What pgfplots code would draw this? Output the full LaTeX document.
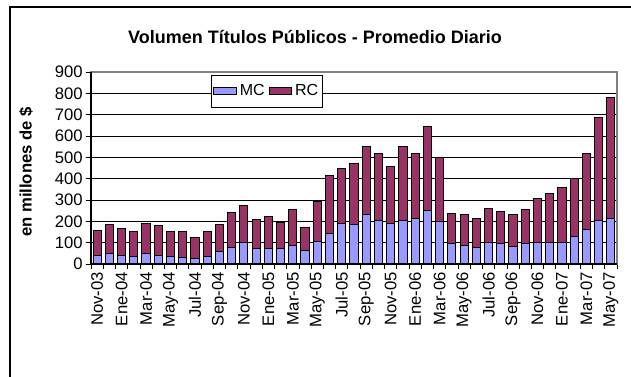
\documentclass[border=0pt]{standalone}
\usepackage{pgfplots}
\pgfplotsset{compat=1.18}
\usepackage{pgfplotstable}
\usepackage{fontspec}
\setmainfont{Liberation Sans}
\definecolor{mcblue}{HTML}{9999FF}
\definecolor{rcpurple}{HTML}{993366}
\pgfplotstableread{
idx MC RC
0 41 118
1 47 140
2 39 128
3 34 119
4 47 145
5 41 140
6 34 118
7 31 122
8 28 94
9 36 116
10 59 127
11 78 164
12 102 173
13 73 135
14 74 147
15 73 122
16 86 169
17 61 111
18 106 188
19 141 275
20 188 259
21 184 289
22 230 322
23 203 316
24 189 270
25 205 345
26 211 309
27 253 390
28 198 301
29 94 145
30 89 142
31 78 134
32 102 157
33 94 154
34 84 146
35 95 161
36 100 206
37 102 228
38 102 257
39 130 272
40 164 355
41 206 482
42 211 570
}\datatable
\begin{document}
\begin{tikzpicture}
\useasboundingbox (0pt,0pt) rectangle (473.25pt,282.75pt);
\begin{scope}
\clip (0pt,0pt) rectangle (473.25pt,282.75pt);
\draw[black, line width=0.9pt] (7.5pt,277.5pt) rectangle (480pt,-11pt);
\end{scope}
\node[font=\bfseries\fontsize{13.5}{16}\selectfont] at (236.25pt,255pt) {Volumen Títulos Públicos - Promedio Diario};
\node[font=\bfseries\fontsize{12.5}{15}\selectfont, rotate=90] at (19.5pt,153.75pt) {en millones de \$};
\begin{axis}[
  at={(68.25pt,84.75pt)}, anchor=south west,
  scale only axis, width=394.5pt, height=144pt,
  xmin=-0.5, xmax=42.5, ymin=0, ymax=900,
  ybar stacked, bar width=0.667,
  xtick={0,2,...,42},
  xticklabels={Nov-03,Ene-04,Mar-04,May-04,Jul-04,Sep-04,Nov-04,Ene-05,Mar-05,May-05,Jul-05,Sep-05,Nov-05,Ene-06,Mar-06,May-06,Jul-06,Sep-06,Nov-06,Ene-07,Mar-07,May-07},
  minor xtick={-0.5,0.5,...,42.5},
  ytick={0,100,...,900},
  xtick pos=bottom, ytick pos=left,
  major x tick style={draw=none},
  minor x tick style={black, line width=0.6pt},
  y tick style={black, line width=0.6pt},
  tick align=outside, major tick length=4pt, minor tick length=4pt,
  ymajorgrids, grid style={black, line width=0.6pt},
  axis line style={draw=gray, line width=0.9pt},
  /pgf/number format/assume math mode=true,
  ticklabel style={font=\fontsize{12.5}{14}\selectfont},
  yticklabel style={inner xsep=2pt},
  xticklabel style={rotate=90, anchor=east, inner xsep=2pt},
  legend style={at={(0.228,0.986)}, anchor=north west, legend columns=2, draw=black, line width=0.6pt, font=\fontsize{12}{14}\selectfont, inner xsep=1.5pt, inner ysep=5pt, /tikz/every even column/.append style={column sep=1pt}, /tikz/every odd column/.append style={column sep=0pt}},
  area legend,
  clip=false,
]
\addplot[fill=mcblue, draw=black, line width=0.75pt] table[x=idx, y=MC] {\datatable};
\addplot[fill=rcpurple, draw=black, line width=0.75pt] table[x=idx, y=RC] {\datatable};
\legend{MC,RC}
\draw[black, line width=0.9pt] (axis cs:-0.5,900) -- (axis cs:-0.5,0) -- (axis cs:42.5,0);
\end{axis}
\end{tikzpicture}
\end{document}
